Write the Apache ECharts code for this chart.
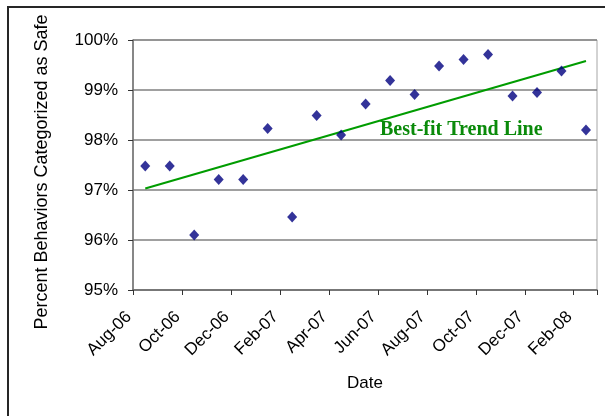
<!DOCTYPE html>
<html>
<head>
<meta charset="utf-8">
<script src="https://cdn.jsdelivr.net/npm/echarts@6/dist/echarts.min.js"></script>
<style>
  html, body { margin: 0; padding: 0; background: #fff; }
  #chart { width: 605px; height: 416px; }
</style>
</head>
<body>
<div id="chart"></div>
<script>
// monthly observations, plotted mid-month
var months = ['Aug-06', 'Sep-06', 'Oct-06', 'Nov-06', 'Dec-06', 'Jan-07', 'Feb-07',
  'Mar-07', 'Apr-07', 'May-07', 'Jun-07', 'Jul-07', 'Aug-07', 'Sep-07', 'Oct-07',
  'Nov-07', 'Dec-07', 'Jan-08', 'Feb-08'];
var safePct = [97.48, 97.48, 96.10, 97.21, 97.21, 98.23, 96.46, 98.49, 98.10, 98.72,
  99.19, 98.91, 99.48, 99.61, 99.71, 98.88, 98.95, 99.38, 98.20];
var yTicks = [95, 96, 97, 98, 99, 100];

var chart = echarts.init(document.getElementById('chart'));

// points sit in the middle of each month
var points = [];
for (var i = 0; i < months.length; i++) {
  points.push([i + 0.5, safePct[i]]);
}

// least squares fit for the trend line
var n = points.length, sx = 0, sy = 0, sxx = 0, sxy = 0;
points.forEach(function(p) {
  sx += p[0]; sy += p[1]; sxx += p[0] * p[0]; sxy += p[0] * p[1];
});
var slope = (n * sxy - sx * sy) / (n * sxx - sx * sx);
var icpt = (sy - slope * sx) / n;
var first = points[0][0], last = points[n - 1][0];
var trend = [[first, icpt + slope * first], [last, icpt + slope * last]];

var font = 'Liberation Sans, Arial, sans-serif';

var option = {
  animation: false,
  grid: {
    left: 133, right: 8, top: 40, bottom: 126,
    show: true, borderColor: '#a6a6a6', borderWidth: 1, backgroundColor: '#fff'
  },
  graphic: [{
    type: 'rect',
    z: -10,
    shape: { x: 8, y: 7, width: 700, height: 500 },
    style: { fill: 'none', stroke: '#262626', lineWidth: 2 }
  }, {
    type: 'text',
    left: 380,
    top: 120,
    style: {
      text: 'Best-fit Trend Line',
      fill: '#0a8a0a',
      font: 'bold 20px "Liberation Serif", "Times New Roman", serif'
    }
  }],
  xAxis: {
    type: 'value',
    min: 0,
    max: 18.95,
    interval: 2,
    name: 'Date',
    nameLocation: 'middle',
    nameGap: 85,
    nameTextStyle: { color: '#000', fontSize: 17, fontFamily: font },
    axisLine: { lineStyle: { color: '#6e6e6e', width: 1.5 } },
    axisTick: { show: true, length: 5, lineStyle: { color: '#333' } },
    splitLine: { show: false },
    axisLabel: {
      rotate: 45,
      margin: 20,
      padding: [0, 6, 0, 0],
      color: '#000',
      fontSize: 17,
      fontFamily: font,
      formatter: function(v) {
        return (v % 2 === 0 && months[v]) ? months[v] : '';
      }
    }
  },
  yAxis: {
    type: 'value',
    min: yTicks[0],
    max: yTicks[yTicks.length - 1],
    interval: 1,
    name: 'Percent Behaviors Categorized as Safe',
    nameLocation: 'middle',
    nameGap: 82,
    nameTextStyle: { color: '#000', fontSize: 18, fontFamily: font, padding: [0, 14, 0, 0] },
    axisLine: { show: true, lineStyle: { color: '#6e6e6e', width: 1.5 } },
    axisTick: { show: true, length: 5, lineStyle: { color: '#333' } },
    splitLine: { lineStyle: { color: '#808080', width: 1.5 } },
    axisLabel: {
      color: '#000',
      fontSize: 17,
      fontFamily: font,
      margin: 15,
      formatter: function(v) { return v + '%'; }
    }
  },
  series: [{
    type: 'line',
    data: trend,
    symbol: 'none',
    lineStyle: { color: '#009c00', width: 2 },
    z: 2
  }, {
    type: 'scatter',
    data: points,
    symbol: 'diamond',
    symbolSize: [10, 11],
    itemStyle: { color: '#00007f' },
    z: 3
  }]
};

chart.setOption(option);
</script>
</body>
</html>
